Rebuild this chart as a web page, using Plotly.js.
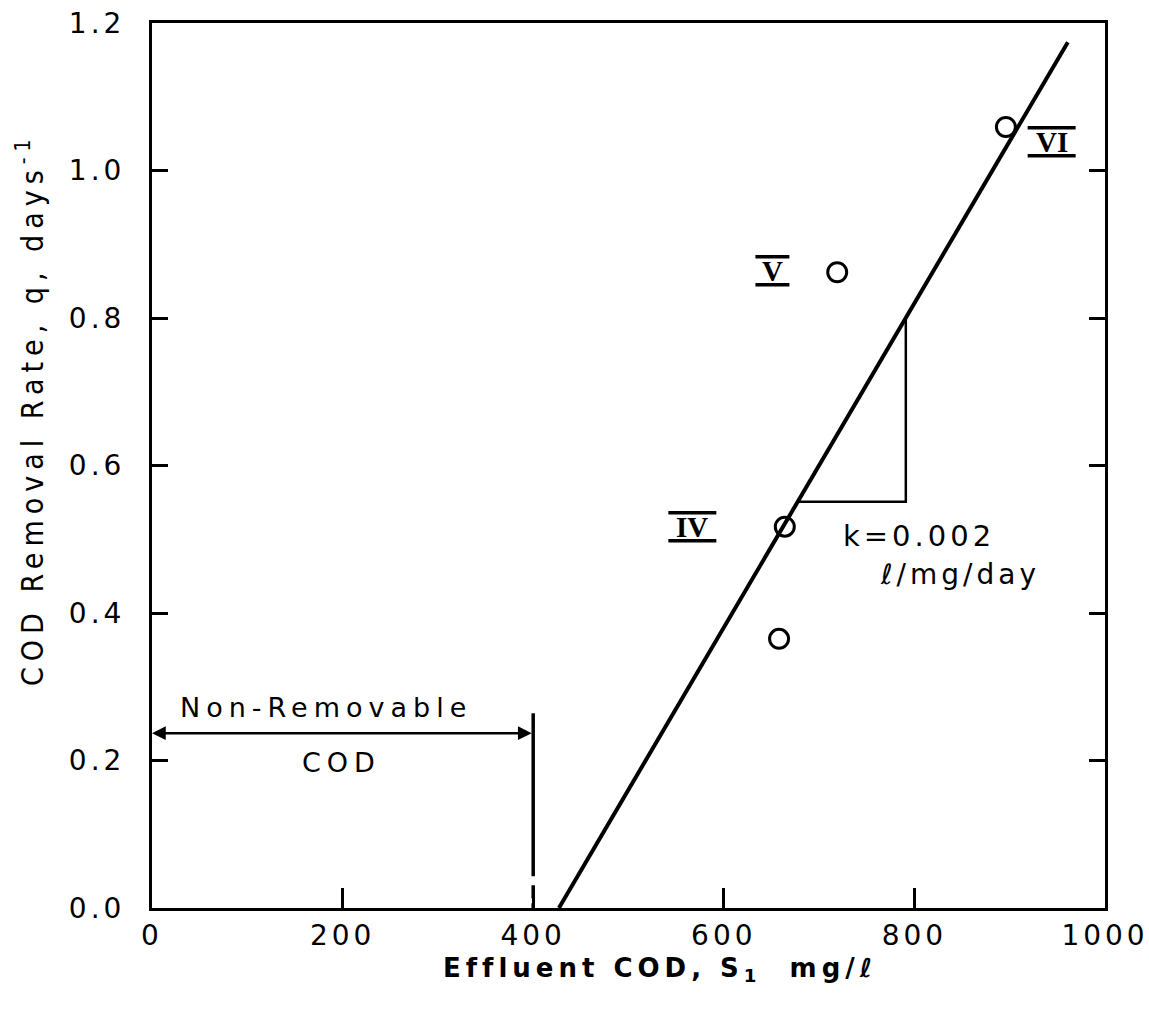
<!DOCTYPE html>
<html><head><meta charset="utf-8">
<script src="https://cdn.plot.ly/plotly-3.0.1.min.js"></script>
<style>html,body{margin:0;padding:0;background:#fff}</style>
</head><body><div id="chart" style="width:1149px;height:1018px"></div>
<script>
// ---- data ----
const sampleCOD  = [658, 664, 719, 896];          // effluent COD, mg/l
const sampleRate = [0.365, 0.517, 0.862, 1.059];  // q, 1/day
const fitCOD  = [427, 961];
const fitRate = [0, 1.174];
const slopeCOD  = [678, 791, 791];
const slopeRate = [0.551, 0.551, 0.800];
const nonRemovableCOD = 400;
const nonRemovableArrowRate = 0.237;
const nonRemovableTopRate = 0.264;
const phaseLabels = ['IV', 'V', 'VI'];
const phaseCOD  = [567, 651, 944];
const phaseRate = [0.517, 0.864, 1.039];
const xTickVals = [0, 200, 400, 600, 800, 1000];
const xTickText = ['0', '200', '400', '600', '800', '1000'];
const yTickVals = [0, 0.2, 0.4, 0.6, 0.8, 1.0, 1.2];
const yTickText = ['0.0', '0.2', '0.4', '0.6', '0.8', '1.0', '1.2'];

const INK = '#000';
const sp = (t, s) => '<span style="letter-spacing:' + s + 'px">' + t + '</span>';

const traces = [
  { x: fitCOD, y: fitRate, mode: 'lines', line: {color: INK, width: 4}, hoverinfo: 'skip' },
  { x: slopeCOD, y: slopeRate, mode: 'lines', line: {color: INK, width: 2.5}, hoverinfo: 'skip' },
  { x: [nonRemovableCOD, nonRemovableCOD], y: [nonRemovableTopRate, 0], mode: 'lines',
    line: {color: INK, width: 3.5, dash: '163px,9px,13px,5px,30px'}, hoverinfo: 'skip' },
  { x: sampleCOD, y: sampleRate, mode: 'markers',
    marker: {symbol: 'circle-open', size: 19, color: INK, line: {width: 3, color: INK}} }
];

const annotations = [
  { x: 0, y: nonRemovableArrowRate, ax: nonRemovableCOD, ay: nonRemovableArrowRate,
    xref: 'x', yref: 'y', axref: 'x', ayref: 'y', text: '', showarrow: true,
    arrowhead: 2, arrowside: 'end+start', arrowsize: 1.1, arrowwidth: 2.5, arrowcolor: INK },
  { x: 183, y: nonRemovableArrowRate, xref: 'x', yref: 'y', yanchor: 'bottom', yshift: 8,
    text: sp('Non-Removable', 6), showarrow: false,
    font: {family: 'DejaVu Sans', size: 27, color: INK} },
  { x: 199, y: nonRemovableArrowRate, xref: 'x', yref: 'y', yanchor: 'top', yshift: -12,
    text: sp('COD', 6), showarrow: false,
    font: {family: 'DejaVu Sans', size: 27, color: INK} },
  { x: 723, y: 0.504, xref: 'x', yref: 'y', xanchor: 'left', showarrow: false,
    text: sp('k=0.002', 4), font: {family: 'DejaVu Sans', size: 29, color: INK} },
  { x: 762, y: 0.452, xref: 'x', yref: 'y', xanchor: 'left', showarrow: false,
    text: sp('ℓ/mg/day', 4), font: {family: 'DejaVu Sans', size: 28, color: INK} },
  { x: 0.533, y: (908 - 970) / 885, xref: 'paper', yref: 'paper', yanchor: 'middle', showarrow: false,
    text: sp('Effluent COD, S<sub>1</sub>  mg/ℓ', 5),
    font: {family: 'DejaVu Sans', size: 26, color: INK, weight: 'bold'} },
  { x: -0.128, y: (908 - 410) / 885, xref: 'paper', yref: 'paper', xanchor: 'center', showarrow: false, textangle: -90,
    text: sp('COD Removal Rate, q, days<sup>-1</sup>', 6),
    font: {family: 'DejaVu Sans Condensed', size: 30, color: INK} }
];

const shapes = [];
phaseLabels.forEach((lab, i) => {
  annotations.push({ x: phaseCOD[i], y: phaseRate[i], xref: 'x', yref: 'y', showarrow: false,
    text: '<b>' + lab + '</b>', font: {family: 'Liberation Serif', size: 29, color: INK} });
  const hw = 10 + 7 * lab.length;
  [14, -14].forEach(dy => shapes.push({
    type: 'line', xref: 'x', yref: 'y', xsizemode: 'pixel', ysizemode: 'pixel',
    xanchor: phaseCOD[i], yanchor: phaseRate[i], x0: -hw, x1: hw, y0: dy, y1: dy,
    line: {color: INK, width: 3.5}
  }));
});

const axisFont = {family: 'DejaVu Sans', size: 28, color: INK};
const layout = {
  width: 1149, height: 1018,
  margin: {l: 152, r: 44, t: 23, b: 110},
  paper_bgcolor: '#fff', plot_bgcolor: '#fff',
  showlegend: false,
  xaxis: {range: [0, 1000], showgrid: false, zeroline: false, showline: true, linewidth: 3,
    linecolor: INK, mirror: true, ticks: 'inside', ticklen: 20, tickwidth: 3, tickcolor: INK,
    tickvals: xTickVals, ticktext: xTickText.map(t => sp(t, 4)), tickfont: axisFont,
    ticklabelstandoff: 0},
  yaxis: {range: [0, 1.2], showgrid: false, zeroline: false, showline: true, linewidth: 3,
    linecolor: INK, mirror: 'allticks', ticks: 'inside', ticklen: 16, tickwidth: 3, tickcolor: INK,
    tickvals: yTickVals, ticktext: yTickText.map(t => sp(t, 4)), tickfont: axisFont,
    ticklabelstandoff: 18},
  annotations: annotations,
  shapes: shapes
};

Plotly.newPlot('chart', traces, layout, {displayModeBar: false, staticPlot: true});
</script>
</body></html>
